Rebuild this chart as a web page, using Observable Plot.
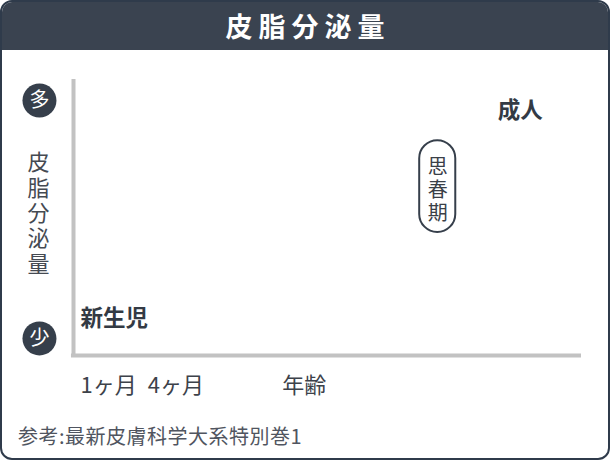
<!DOCTYPE html>
<html><head><meta charset="utf-8">
<script src="https://cdn.jsdelivr.net/npm/d3@7"></script>
<script src="https://cdn.jsdelivr.net/npm/@observablehq/plot@0.6"></script>
<style>
html,body{margin:0;padding:0;background:#fff;font-family:"Noto Sans CJK JP","Noto Sans",sans-serif;}
#wrap{position:relative;width:610px;height:460px;overflow:hidden;}
#card{position:absolute;left:0;top:0;width:606px;height:456px;border:2px solid #2f3b4b;border-radius:12px;overflow:hidden;}
#head{position:absolute;left:0;top:0;width:606px;height:48px;background:#3a4350;color:#fff;font-weight:700;font-size:27px;letter-spacing:6px;text-indent:6px;text-align:center;line-height:48px;}
#chart{position:absolute;left:0;top:50px;}
#cap{position:absolute;left:18px;top:422px;font-size:20px;letter-spacing:0.5px;color:#505560;line-height:28px;}
.vt text{writing-mode:vertical-rl;}
</style></head>
<body>
<div id="wrap">
  <div id="card"><div id="head">皮脂分泌量</div></div>
  <div id="chart"></div>
  <div id="cap">参考:最新皮膚科学大系特別巻1</div>
</div>
<script>
// scale ends (sebum amount: high / low)
const yEndLabels = ["多", "少"];
const yEndValues = [92.4, 6.2];
const yAxisTitle = "皮脂分泌量";
// x-axis tick labels and their positions on the age axis
const xTickLabels = ["1ヶ月", "4ヶ月", "年齢"];
const xTickValues = [1.4, 14.6, 41.1];
// life-stage labels
const stageLabels = ["新生児", "成人"];
const stageX = [1.4, 83.5];
const stageY = [13.4, 88.8];
// puberty marker
const pubertyLabel = "思春期";
const pubertyX = 71.7;
const pubertyY = 61.2;

const ink = "#363f4b";
const ends = yEndLabels.map((t, i) => ({t, y: yEndValues[i]}));
const ticks = xTickLabels.map((t, i) => ({t, x: xTickValues[i]}));
const stages = stageLabels.map((t, i) => ({t, x: stageX[i], y: stageY[i]}));

const chart = Plot.plot({
  width: 610, height: 360,
  marginLeft: 73, marginRight: 29, marginTop: 29, marginBottom: 55,
  x: {domain: [0, 100], axis: null},
  y: {domain: [0, 100], axis: null},
  style: {fontFamily: '"Noto Sans CJK JP", sans-serif', background: "transparent"},
  marks: [
    Plot.ruleX([0], {y1: 0, y2: 100, stroke: "#c2c2c2", strokeWidth: 4}),
    Plot.ruleY([0], {x1: -0.4, x2: 100, stroke: "#c2c2c2", strokeWidth: 4}),
    Plot.dot(ends, {x: () => -6.7, y: "y", r: 17, fill: ink, stroke: null}),
    Plot.text(ends, {x: () => -6.7, y: "y", text: "t", fill: "#fff", fontSize: 20}),
    Plot.text([yAxisTitle], {x: () => -6.9, y: () => 53.7, text: d => d, fill: "#454a52", fontSize: 22, className: "vt vtitle"}),
    Plot.text(ticks, {x: "x", y: () => -11.2, text: "t", textAnchor: "start", fill: "#3d424a", fontSize: 22}),
    Plot.text(stages, {x: "x", y: "y", text: "t", textAnchor: "start", fill: "#333a44", fontSize: 22.5, fontWeight: "bold"}),
    Plot.rect([pubertyLabel], {x1: () => pubertyX - 3.55, x2: () => pubertyX + 3.55, y1: () => pubertyY - 16.6, y2: () => pubertyY + 16.6, rx: 18, fill: "#fff", stroke: ink, strokeWidth: 2}),
    Plot.text([pubertyLabel], {x: () => pubertyX, y: () => pubertyY + 0.8, text: d => d, fill: "#3a4048", fontSize: 20, className: "vt vpub"})
  ]
});
// vertical (tategaki) labels: one text element, glyphs stacked top to bottom
chart.querySelectorAll(".vt text").forEach(t => {
  t.removeAttribute("dy");
  t.setAttribute("dominant-baseline", "central");
});
chart.querySelectorAll(".vtitle text").forEach(t => t.setAttribute("letter-spacing", "3.3"));
chart.querySelectorAll(".vpub text").forEach(t => t.setAttribute("letter-spacing", "3.2"));
document.getElementById("chart").appendChild(chart);
</script>
</body></html>
